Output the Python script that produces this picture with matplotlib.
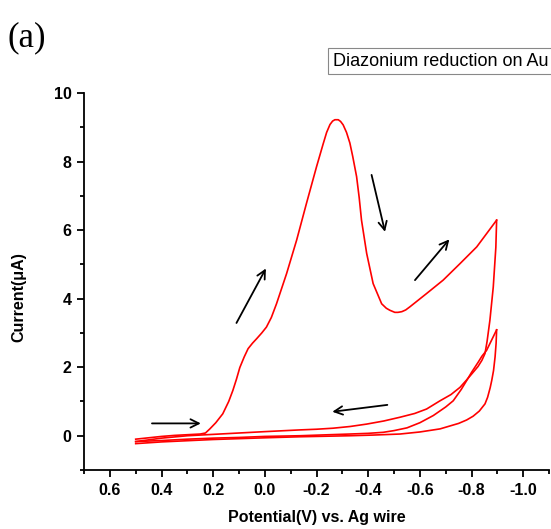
import matplotlib.pyplot as plt
from matplotlib.ticker import MultipleLocator

# --------------------------------------------------
# DATA
# --------------------------------------------------

# first cycle, forward scan 0.5 V -> -0.9 V
fwd1_v = [0.50, 0.45, 0.40, 0.35, 0.30, 0.25, 0.23, 0.213, 0.19, 0.163, 0.14,
          0.124, 0.11, 0.097, 0.08, 0.065, 0.048, 0.032, 0.012, -0.006, -0.025,
          -0.045, -0.084, -0.123, -0.161, -0.200, -0.225, -0.239, -0.252,
          -0.262, -0.271, -0.284, -0.293, -0.303, -0.316, -0.329, -0.34,
          -0.355, -0.365, -0.374, -0.394, -0.419, -0.452, -0.47, -0.484,
          -0.503, -0.515, -0.53, -0.545, -0.561, -0.626, -0.690, -0.755,
          -0.820, -0.897]
fwd1_i = [-0.10, -0.06, -0.02, 0.01, 0.03, 0.05, 0.08, 0.20, 0.38, 0.64, 1.00,
          1.32, 1.65, 1.99, 2.30, 2.54, 2.70, 2.83, 3.00, 3.17, 3.45,
          3.85, 4.73, 5.71, 6.78, 7.85, 8.50, 8.85, 9.08,
          9.18, 9.22, 9.22, 9.17, 9.07, 8.85, 8.54, 8.15,
          7.56, 6.95, 6.29, 5.32, 4.44, 3.85, 3.72, 3.66,
          3.60, 3.60, 3.62, 3.67, 3.76, 4.15, 4.54, 5.02,
          5.51, 6.29]

# first cycle, reverse scan -0.9 V -> 0.5 V
rev1_v = [-0.897, -0.894, -0.884, -0.871, -0.860, -0.852, -0.84, -0.825,
          -0.806, -0.78, -0.755, -0.72, -0.678, -0.626, -0.58, -0.523,
          -0.46, -0.394, -0.33, -0.264, -0.2, -0.135, 0.0, 0.1, 0.2,
          0.3, 0.4, 0.5]
rev1_i = [6.29, 5.50, 4.34, 3.37, 2.75, 2.40, 2.20, 2.02,
          1.85, 1.62, 1.41, 1.20, 1.02, 0.78, 0.65, 0.54,
          0.43, 0.34, 0.27, 0.22, 0.19, 0.17, 0.12, 0.08, 0.04,
          0.0, -0.07, -0.17]

# second cycle, forward scan
fwd2_v = [0.5, 0.4, 0.3, 0.2, 0.1, 0.0, -0.135, -0.25, -0.329, -0.40,
          -0.458, -0.5, -0.55, -0.6, -0.652, -0.7, -0.729, -0.76, -0.781,
          -0.8, -0.826, -0.84, -0.858, -0.875, -0.897]
fwd2_i = [-0.17, -0.14, -0.10, -0.07, -0.05, -0.02, 0.0, 0.03, 0.05, 0.07,
          0.10, 0.15, 0.23, 0.38, 0.59, 0.84, 1.02, 1.35, 1.61,
          1.85, 2.15, 2.32, 2.49, 2.75, 3.09]

# second cycle, reverse scan
rev2_v = [-0.897, -0.895, -0.891, -0.885, -0.878, -0.872, -0.862, -0.852,
          -0.83, -0.806, -0.781, -0.75, -0.678, -0.6, -0.523, -0.42,
          -0.329, -0.135, 0.0, 0.2, 0.4, 0.5]
rev2_i = [3.09, 2.70, 2.30, 1.90, 1.61, 1.40, 1.12, 0.93,
          0.72, 0.57, 0.46, 0.36, 0.20, 0.11, 0.05, 0.02,
          0.0, -0.03, -0.06, -0.11, -0.18, -0.23]

# scan direction arrows: (start V, start I, end V, end I)
arrows = [
    (0.437, 0.36, 0.248, 0.36),
    (0.110, 3.29, -0.004, 4.88),
    (-0.413, 7.61, -0.465, 5.95),
    (-0.581, 4.54, -0.714, 5.73),
    (-0.474, 0.90, -0.261, 0.70),
]

x_ticks = [0.6, 0.4, 0.2, 0.0, -0.2, -0.4, -0.6, -0.8, -1.0]
y_ticks = [0, 2, 4, 6, 8, 10]

# --------------------------------------------------
# PLOT
# --------------------------------------------------

plt.rcParams['font.family'] = ['Liberation Sans', 'DejaVu Sans']

fig = plt.figure(figsize=(5.51, 5.29), dpi=100)
ax = fig.add_axes([0.1525, 0.1115, 0.844, 0.7127])

for v, i in [(fwd1_v, fwd1_i), (rev1_v, rev1_i), (fwd2_v, fwd2_i), (rev2_v, rev2_i)]:
    ax.plot(v, i, color='red', lw=1.2, solid_joinstyle='round')

for x0, y0, x1, y1 in arrows:
    ax.annotate('', xy=(x1, y1), xytext=(x0, y0),
                arrowprops=dict(arrowstyle='->', color='black', lw=1.3,
                                mutation_scale=15, shrinkA=0, shrinkB=0))

ax.set_xlim(0.7, -1.1)
ax.set_ylim(-1, 10)
ax.set_xticks(x_ticks)
ax.set_xticklabels([f"{t:.1f}" for t in x_ticks])
ax.set_yticks(y_ticks)
ax.xaxis.set_minor_locator(MultipleLocator(0.1))
ax.yaxis.set_minor_locator(MultipleLocator(1))

for side in ['top', 'right']:
    ax.spines[side].set_visible(False)
for side in ['left', 'bottom']:
    ax.spines[side].set_linewidth(1.3)

ax.tick_params(which='major', length=5, width=1.3, direction='out',
               labelsize=11.5, pad=4)
ax.tick_params(which='minor', length=3, width=1.3, direction='out')
for lab in ax.get_xticklabels() + ax.get_yticklabels():
    lab.set_fontweight('bold')

ax.set_xlabel('Potential(V) vs. Ag wire', fontsize=11.5, fontweight='bold')
ax.set_ylabel('Current(\u03bcA)', fontsize=11.5, fontweight='bold')
ax.xaxis.set_label_coords(0.5, -0.105)
ax.yaxis.set_label_coords(-0.125, 0.46)

fig.text(0.013, 0.912, '(a)', fontsize=25, family='Liberation Serif')
fig.text(0.604, 0.876, 'Diazonium reduction on Au', fontsize=13,
         bbox=dict(boxstyle='square,pad=0.25', fc='white', ec='#888888', lw=0.8))

fig.savefig('out.png', dpi=100)
plt.close(fig)
